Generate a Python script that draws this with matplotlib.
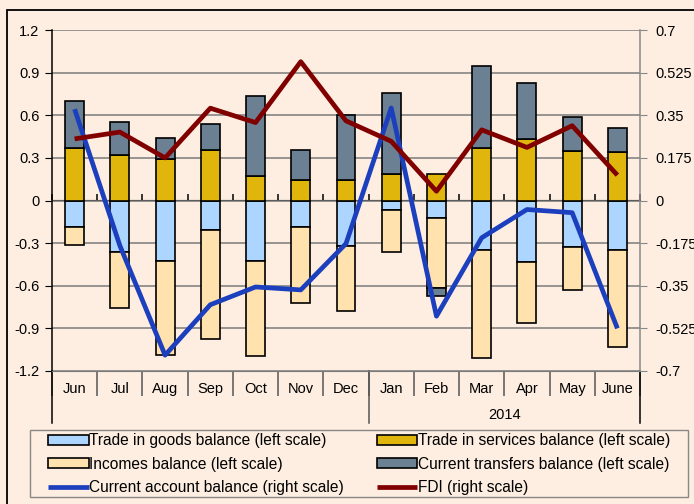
import numpy as np
import matplotlib
matplotlib.use("Agg")
import matplotlib.pyplot as plt
from matplotlib.patches import Rectangle

months = ["Jun", "Jul", "Aug", "Sep", "Oct", "Nov", "Dec",
          "Jan", "Feb", "Mar", "Apr", "May", "June"]
year_label = "2014"

# left scale
goods = [-0.185, -0.36, -0.425, -0.21, -0.425, -0.19, -0.32,
         -0.07, -0.125, -0.345, -0.43, -0.33, -0.35]
services = [0.37, 0.32, 0.29, 0.355, 0.175, 0.147, 0.143,
            0.19, 0.187, 0.37, 0.43, 0.345, 0.34]
incomes = [-0.125, -0.395, -0.66, -0.765, -0.67, -0.53, -0.46,
           -0.29, -0.49, -0.76, -0.43, -0.30, -0.68]
transfers = [0.33, 0.23, 0.15, 0.185, 0.56, 0.21, 0.46,
             0.57, -0.06, 0.58, 0.40, 0.24, 0.17]

# right scale
current_account = [0.375, -0.185, -0.635, -0.428, -0.355, -0.367, -0.177,
                   0.38, -0.475, -0.153, -0.037, -0.05, -0.525]
fdi = [0.253, 0.281, 0.175, 0.379, 0.32, 0.57, 0.327,
       0.243, 0.038, 0.29, 0.218, 0.307, 0.104]

left_ticks = [1.2, 0.9, 0.6, 0.3, 0, -0.3, -0.6, -0.9, -1.2]
right_ticks = [0.7, 0.525, 0.35, 0.175, 0, -0.175, -0.35, -0.525, -0.7]

bg = "#FDEEE1"
plt.rcParams["font.family"] = ["Liberation Sans", "DejaVu Sans"]

fig = plt.figure(figsize=(6.94, 5.04), dpi=100, facecolor=bg)
ax = fig.add_axes([52/694, 1-371/504, 588/694, 341/504])
ax.set_facecolor(bg)

x = np.arange(len(months))
w = 0.42
pos = np.zeros(len(months))
neg = np.zeros(len(months))
series = [
    (goods, "#ACD5FF", "Trade in goods balance (left scale)"),
    (services, "#E1B60C", "Trade in services balance (left scale)"),
    (incomes, "#FFE2AE", "Incomes balance (left scale)"),
    (transfers, "#6C8093", "Current transfers balance (left scale)"),
]
handles = {}
for vals, col, lab in series:
    v = np.array(vals)
    bottom = np.where(v >= 0, pos, neg)
    b = ax.bar(x, v, w, bottom=bottom, color=col, edgecolor="black",
               linewidth=1.2, label=lab, zorder=3)
    handles[lab] = b
    pos = pos + np.where(v >= 0, v, 0)
    neg = neg + np.where(v < 0, v, 0)

ax.set_xlim(-0.5, len(months) - 0.5)
ax.set_ylim(-1.2, 1.2)
ax.set_yticks(left_ticks)
ax.set_yticklabels([f"{t:g}" for t in left_ticks])
ax.yaxis.grid(True, color="#7a7a7a", linewidth=1.1, zorder=0)
ax.set_axisbelow(True)
ax.tick_params(axis="y", direction="out", length=5, color="black",
               labelsize=10.5, pad=4)

# category labels at bottom, separators between months
ax.set_xticks(np.arange(len(months) + 1) - 0.5)
ax.set_xticklabels([])
ax.set_xticks(x, minor=True)
ax.set_xticklabels(months, minor=True)
ax.tick_params(axis="x", which="major", direction="out", length=18,
               color="#555555", width=1.1)
ax.tick_params(axis="x", which="minor", length=0, labelsize=10.5, pad=8)
for xb in [-0.5, 6.5, len(months) - 0.5]:
    ax.axvline(xb, ymin=-0.152, ymax=0, clip_on=False,
               color="#555555" if xb == 6.5 else "black", linewidth=1.1)
ax.text(np.mean(x[7:]), -0.128, year_label, transform=ax.get_xaxis_transform(),
        ha="center", va="center", fontsize=10.5)

for s in ["top", "right"]:
    ax.spines[s].set_visible(False)
ax.spines["left"].set_linewidth(1.1)
ax.spines["bottom"].set_color("#7a7a7a")

# category axis crossing at zero
zx = ax.secondary_xaxis(0.5)
zx.set_xticks(np.arange(len(months) + 1) - 0.5)
zx.set_xticklabels([])
zx.tick_params(direction="out", length=4, width=1.1, color="black")
zx.spines["bottom"].set_linewidth(1.1)

ax2 = ax.twinx()
ax2.set_ylim(-0.7, 0.7)
ax2.set_yticks(right_ticks)
ax2.set_yticklabels([f"{t:g}" for t in right_ticks])
ax2.tick_params(axis="y", direction="out", length=5, color="#888888",
                labelsize=10.5, pad=6)
for s in ["top", "left", "bottom"]:
    ax2.spines[s].set_visible(False)
ax2.spines["right"].set_color("#888888")
ax2.spines["right"].set_linewidth(1.1)

l1, = ax2.plot(x, current_account, color="#1C3FBD", linewidth=3.4,
               solid_capstyle="butt", label="Current account balance (right scale)", zorder=3)
l2, = ax2.plot(x, fdi, color="#800000", linewidth=3.4,
               solid_capstyle="butt", label="FDI (right scale)", zorder=4)

# legend box drawn separately, entries placed inside
fig.patches.append(Rectangle((30/694, 1-497/504), 658/694, 67/504,
                             transform=fig.transFigure, facecolor=bg,
                             edgecolor="#888888", linewidth=1.0, zorder=0))
order = [handles[series[0][2]], handles[series[2][2]], l1,
         handles[series[1][2]], handles[series[3][2]], l2]
labels = [h.get_label() for h in order]
leg = fig.legend(order, labels, ncol=2, loc="upper left",
                 bbox_to_anchor=(45/694, 1-430/504),
                 fontsize=11.2, frameon=False,
                 handlelength=2.6, handleheight=0.6, handletextpad=0.05,
                 labelspacing=0.55, borderaxespad=0, borderpad=0.2,
                 columnspacing=2.1)

fig.patches.append(Rectangle((7/694, -0.1), 1.2, 1.1 - 10/504,
                             transform=fig.transFigure, fill=False,
                             edgecolor="black", linewidth=1.3))

fig.savefig("out.png", dpi=100, facecolor=bg)
